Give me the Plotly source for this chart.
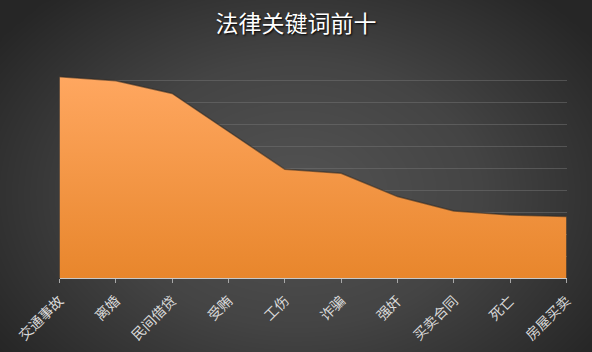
import numpy as np
import plotly.graph_objects as go

categories = ["交通事故", "离婚", "民间借贷", "受贿", "工伤", "诈骗", "强奸", "买卖合同", "死亡", "房屋买卖"]
values = [915, 897, 839, 666, 494, 476, 370, 305, 286, 280]
title_text = "法律关键词前十"

W, H = 592, 352

# radial background (style only)
nx, ny = 60, 36
gx = np.linspace(0, 1, nx)
gy = np.linspace(0, 1, ny)
X, Y = np.meshgrid(gx, gy)
D = np.sqrt(((X - 0.5) / 0.62) ** 2 + ((Y - 0.55) / 0.75) ** 2)
Z = np.clip(D, 0, 1)

fig = go.Figure()
fig.add_trace(go.Heatmap(
    x=gx, y=gy, z=Z, zsmooth="best", showscale=False, hoverinfo="skip",
    colorscale=[[0, "#535353"], [0.5, "#444444"], [1, "#262626"]],
    zmin=0, zmax=1, xaxis="x", yaxis="y",
))

fig.add_trace(go.Scatter(
    x=categories, y=values, mode="lines", fill="tozeroy",
    line=dict(color="rgba(45,40,35,0.55)", width=1.5),
    fillgradient=dict(type="vertical",
                      colorscale=[[0, "#e8862c"], [1, "#ffa760"]],
                      start=0, stop=max(values)),
    xaxis="x2", yaxis="y2", hoverinfo="skip",
))

fig.update_layout(
    width=W, height=H,
    margin=dict(l=0, r=0, t=0, b=0, autoexpand=False),
    paper_bgcolor="#2c2c2c", plot_bgcolor="rgba(0,0,0,0)",
    showlegend=False,
    xaxis=dict(domain=[0, 1], range=[0, 1], visible=False, fixedrange=True,
               automargin=False),
    yaxis=dict(domain=[0, 1], range=[1, 0], visible=False, fixedrange=True,
               automargin=False),
    xaxis2=dict(
        domain=[59.5 / W, 566.5 / W], anchor="y2", type="category",
        range=[0, len(categories) - 1], automargin=False,
        showgrid=False, zeroline=False,
        showline=True, linecolor="#c8c8c8", linewidth=1,
        ticks="outside", ticklen=4, tickcolor="#a8a8a8", tickwidth=1,
        tickangle=-45, ticklabelstandoff=4,
        tickfont=dict(family="Noto Sans CJK SC", size=14, color="#d9d9d9"),
    ),
    yaxis2=dict(
        domain=[(H - 278) / H, (H - 58) / H], anchor="x2", automargin=False,
        range=[0, 1000], dtick=100,
        showgrid=True, gridcolor="rgba(115,115,115,0.5)", gridwidth=1,
        zeroline=False, showticklabels=False, ticks="",
    ),
    title=dict(
        text=title_text, x=0.5, xanchor="center", y=1 - 24 / H, yanchor="middle",
        font=dict(family="Noto Sans CJK SC", size=23, color="#ffffff",
                  shadow="1px 1px 2px #000000"),
        automargin=False,
    ),
)

fig.write_html("out.html")
